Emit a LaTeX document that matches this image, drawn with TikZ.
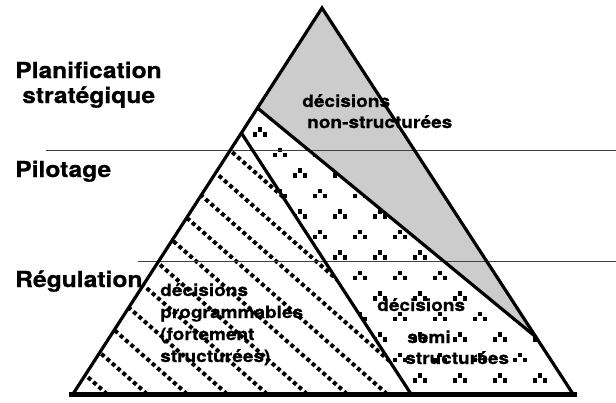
\documentclass[tikz,border=0pt]{standalone}
\usepackage{fontspec}
\setmainfont{TeX Gyre Heros}[FakeBold=0.6]
\tikzset{
  niveau/.style={anchor=base west,inner sep=0pt,xscale=1.12,font=\fontsize{22}{22}\selectfont\bfseries},
  zone/.style={anchor=base west,inner sep=0pt,xscale=1.12,font=\fontsize{17}{17}\selectfont\bfseries},
  hachure/.style={line width=4pt,dash pattern=on 4pt off 3.1pt},
  motif/.pic={\fill (-2.2,-4.6) rectangle (2.2,-0.2);
    \fill (-7.2,0.2) rectangle (-2.8,4.6);
    \fill (2.8,0.2) rectangle (7.2,4.6);}
}
\begin{document}
\begin{tikzpicture}[x=1pt,y=-1pt]
\useasboundingbox (0,0) rectangle (616,402);
\pgfmathsetmacro{\m}{0.88}
\coordinate (A) at (322,8);
\coordinate (L) at (73,394);
\coordinate (R) at (573,394);
\coordinate (G) at (257.5,108);
\coordinate (H) at (535.9,337);
\coordinate (D) at (241.4,133);
\coordinate (E) at (411,394);
\coordinate (b1) at (69,394);
\coordinate (b2) at (577,394);
\coordinate (p1) at (46,150);
\coordinate (p2) at (616,150);
\coordinate (r1) at (138,261);
\coordinate (r2) at (616,261);
%
\fill[gray!40] (A)--(G)--(H)--cycle;
\begin{scope}
\clip (D)--(L)--(E)--cycle;
\foreach \k in {-2,...,12} \draw[hachure] ({107+40*\k},394)--++(-400,{-400*\m});
\end{scope}
\begin{scope}
\clip (G)--(D)--(E)--(R)--(H)--cycle;
\foreach \j in {-5,...,12}
  \foreach \i in {-9,...,8}
    \pic at ({300+40*\i+20*\j},{173+20.5*\j}) {motif};
\end{scope}
%
\draw[line width=1pt,black!75] (p1)--(p2);
\draw[line width=1pt,black!75] (r1)--(r2);
\draw[line width=3.2pt] (L)--(A)--(R);
\draw[line width=3.2pt] (G)--(H);
\draw[line width=3.2pt] (D)--(E);
\draw[line width=5pt] (b1)--(b2);
%text
\node[niveau] (plan) at (15,78) {Planification};
\node[niveau] (strat) at (22,103) {stratégique};
\node[niveau] (pilot) at (15,177) {Pilotage};
\node[niveau] (regul) at (15,287) {Régulation};
\node[zone] (ns1) at (302,107) {décisions};
\node[zone] (ns2) at (307,128) {non-structurées};
\node[zone] (fs1) at (160,296) {décisions};
\node[zone] (fs2) at (160,318) {programmables};
\node[zone] (fs3) at (160,340) {(fortement};
\node[zone] (fs4) at (160,362) {structurées)};
\node[zone] (ss1) at (377,311) {décisions};
\node[zone] (ss2) at (407,343) {semi};
\node[zone] (ss3) at (405,364) {structurées};
\end{tikzpicture}
\end{document}
